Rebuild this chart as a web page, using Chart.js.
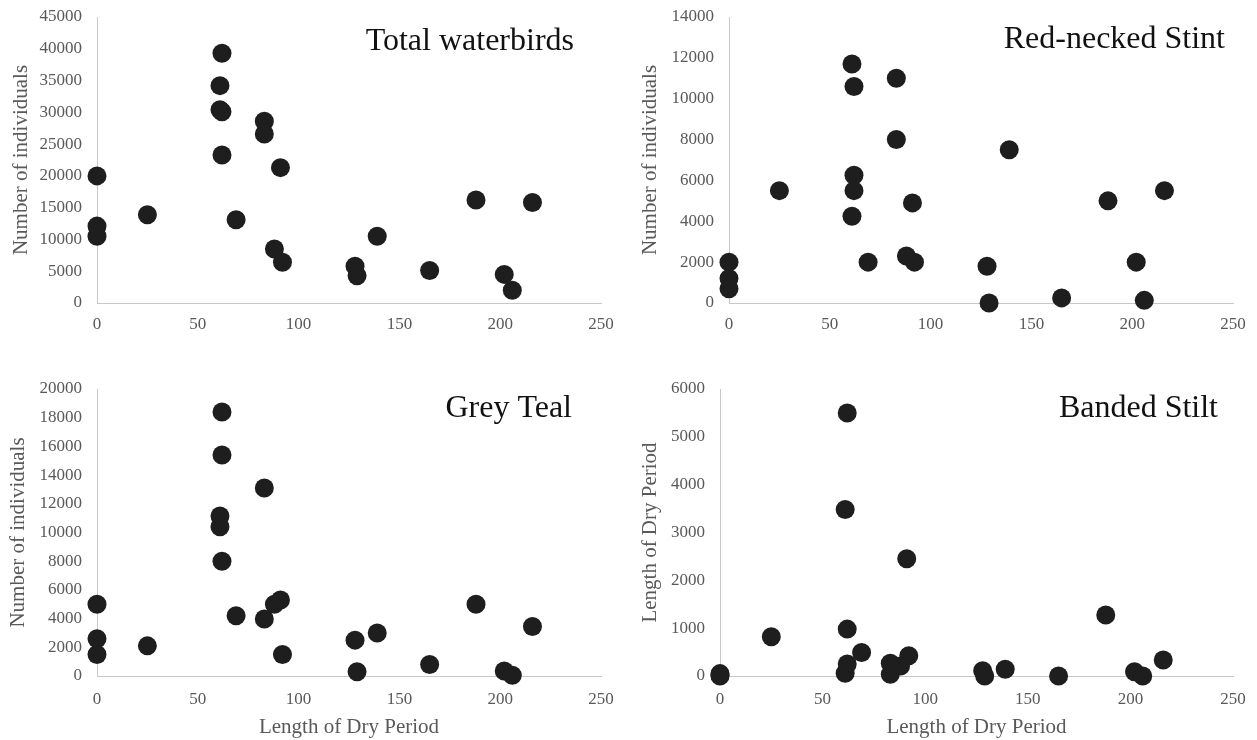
<!DOCTYPE html>
<html>
<head>
<meta charset="utf-8">
<script src="https://cdn.jsdelivr.net/npm/chart.js@4/dist/chart.umd.min.js"></script>
<style>
  html, body { margin: 0; padding: 0; background: #fff; }
  #wrap { position: relative; width: 1257px; height: 740px; overflow: hidden; }
  canvas { position: absolute; }
</style>
</head>
<body>
<div id="wrap">
  <canvas id="c1" width="628" height="345" style="left:0;top:0"></canvas>
  <canvas id="c2" width="629" height="345" style="left:628px;top:0"></canvas>
  <canvas id="c3" width="628" height="395" style="left:0;top:345px"></canvas>
  <canvas id="c4" width="629" height="395" style="left:628px;top:345px"></canvas>
</div>
<script>
// dry period length (days) for each site, shared by all four panels
const dryPeriod = [0, 0, 0, 25, 61, 61, 62, 62, 62, 69, 83, 83, 88, 91, 92, 128, 129, 139, 165, 188, 202, 206, 216];

// counts per site, same order as dryPeriod
const totalWaterbirds = [20000, 12100, 10500, 13900, 34200, 30400, 39300, 30100, 23300, 13100, 28600, 26600, 8500, 21300, 6400, 5800, 4300, 10500, 5100, 16200, 4500, 2000, 15800];
const redneckedStint = [2000, 1200, 700, 5500, 11700, 4250, 10600, 6250, 5500, 2000, 11000, 8000, 2300, 4900, 2000, 1800, 0, 7500, 250, 5000, 2000, 130, 5500];
const greyTeal = [5000, 2600, 1500, 2100, 11150, 10400, 18400, 15400, 8000, 4200, 13100, 3970, 5000, 5300, 1500, 2500, 300, 3000, 800, 5000, 350, 50, 3450];
const bandedStilt = [50, 20, 0, 820, 3480, 56, 5500, 980, 250, 490, 265, 35, 210, 2450, 425, 110, 0, 140, 0, 1275, 90, 0, 335];

// tick labels
const xTicks = [0, 50, 100, 150, 200, 250];
const totalTicks = [0, 5000, 10000, 15000, 20000, 25000, 30000, 35000, 40000, 45000];
const stintTicks = [0, 2000, 4000, 6000, 8000, 10000, 12000, 14000];
const tealTicks = [0, 2000, 4000, 6000, 8000, 10000, 12000, 14000, 16000, 18000, 20000];
const stiltTicks = [0, 1000, 2000, 3000, 4000, 5000, 6000];

const SERIF = '"Liberation Serif", "Times New Roman", serif';
const GREY = '#595959';

// panel name drawn inside the plot, top right
const panelTitle = {
  id: 'panelTitle',
  afterDraw(chart, args, opts) {
    const { ctx, chartArea } = chart;
    ctx.save();
    ctx.font = '32px ' + SERIF;
    ctx.fillStyle = '#111';
    ctx.textAlign = 'right';
    ctx.textBaseline = 'alphabetic';
    ctx.fillText(opts.text, chartArea.right - opts.dx, chartArea.top + opts.dy);
    ctx.restore();
  }
};

function makePanel(id, cfg) {
  const points = dryPeriod.map((d, i) => ({ x: d, y: cfg.values[i] }));
  return new Chart(document.getElementById(id), {
    type: 'scatter',
    data: {
      datasets: [{
        data: points,
        pointRadius: 9.5,
        pointHoverRadius: 9.5,
        backgroundColor: '#1e1e1e',
        borderWidth: 0,
        clip: false,
      }],
    },
    options: {
      responsive: false,
      animation: false,
      layout: { padding: cfg.pad },
      plugins: {
        legend: { display: false },
        tooltip: { enabled: false },
        panelTitle: cfg.title,
      },
      scales: {
        x: {
          type: 'linear',
          min: 0,
          max: 250,
          afterBuildTicks: (s) => { s.ticks = xTicks.map((v) => ({ value: v })); },
          afterFit: (s) => { s.height = cfg.xHeight; },
          grid: { display: false, drawTicks: true, tickLength: cfg.xTickPad },
          border: { display: true, color: '#c8c8c8', width: 1 },
          ticks: { color: GREY, font: { family: SERIF, size: 17 }, padding: 0, maxRotation: 0 },
          title: {
            display: !!cfg.xTitle,
            text: cfg.xTitle || '',
            color: GREY,
            font: { family: SERIF, size: 21 },
            padding: { top: 0, bottom: 0 },
          },
        },
        y: {
          type: 'linear',
          min: 0,
          max: cfg.ticks[cfg.ticks.length - 1],
          afterBuildTicks: (s) => { s.ticks = cfg.ticks.map((v) => ({ value: v })); },
          afterFit: (s) => { s.width = cfg.yWidth; },
          grid: { display: false, drawTicks: true, tickLength: 15 },
          border: { display: true, color: '#c8c8c8', width: 1 },
          ticks: { color: GREY, font: { family: SERIF, size: 17 }, padding: 0, callback: (v) => String(v) },
          title: {
            display: true,
            text: cfg.yTitle,
            color: GREY,
            font: { family: SERIF, size: 21 },
            padding: { top: cfg.yTitlePad, bottom: 0 },
          },
        },
      },
    },
    plugins: [panelTitle],
  });
}

makePanel('c1', {
  values: totalWaterbirds, ticks: totalTicks,
  pad: { left: 0, top: 17, right: 27, bottom: 0 }, yWidth: 97, xHeight: 42, yTitlePad: 9, xTickPad: 11,
  yTitle: 'Number of individuals',
  title: { text: 'Total waterbirds', dx: 27, dy: 33 },
});
makePanel('c2', {
  values: redneckedStint, ticks: stintTicks,
  pad: { left: 0, top: 17, right: 24, bottom: 0 }, yWidth: 101, xHeight: 42, yTitlePad: 10, xTickPad: 11,
  yTitle: 'Number of individuals',
  title: { text: 'Red-necked Stint', dx: 8, dy: 31 },
});
makePanel('c3', {
  values: greyTeal, ticks: tealTicks,
  pad: { left: 0, top: 44, right: 27, bottom: 0 }, yWidth: 97, xHeight: 64, yTitlePad: 6, xTickPad: 13,
  yTitle: 'Number of individuals', xTitle: 'Length of Dry Period',
  title: { text: 'Grey Teal', dx: 29, dy: 28 },
});
makePanel('c4', {
  values: bandedStilt, ticks: stiltTicks,
  pad: { left: 0, top: 44, right: 24, bottom: 0 }, yWidth: 92, xHeight: 64, yTitlePad: 10, xTickPad: 13,
  yTitle: 'Length of Dry Period', xTitle: 'Length of Dry Period',
  title: { text: 'Banded Stilt', dx: 15, dy: 28 },
});
</script>
</body>
</html>
